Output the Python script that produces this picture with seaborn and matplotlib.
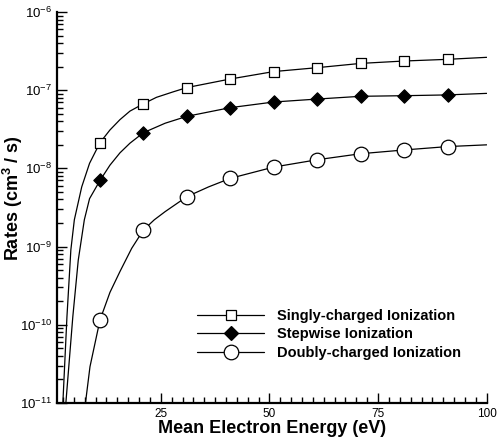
import matplotlib
matplotlib.use("Agg")
import matplotlib.pyplot as plt
import numpy as np
import pandas as pd
import seaborn as sns
from matplotlib.lines import Line2D
from matplotlib.ticker import (LogLocator, MultipleLocator, NullFormatter,
                               LogFormatterSciNotation)

# Rate coefficients sampled at the marker energies (eV)
marker_energy = [11, 21, 31, 41, 51, 61, 71, 81, 91]
single_rate = [2.13e-8, 6.7e-8, 1.08e-7, 1.39e-7, 1.73e-7, 1.94e-7, 2.2e-7, 2.36e-7, 2.48e-7]
stepwise_rate = [7.0e-9, 2.86e-8, 4.63e-8, 5.98e-8, 7.06e-8, 7.7e-8, 8.35e-8, 8.5e-8, 8.7e-8]
double_rate = [1.15e-10, 1.63e-9, 4.35e-9, 7.46e-9, 1.04e-8, 1.29e-8, 1.54e-8, 1.72e-8, 1.9e-8]

# Continuous rate curves
single_curve_e = [2.46, 3.4, 4.3, 5.1, 6.8, 8.6, 11, 13.3, 15.6, 17.9, 21, 24, 27.8, 31,
                  41, 51, 61, 71, 81, 91, 100]
single_curve_r = [1e-11, 1.27e-10, 9.1e-10, 2.2e-9, 5.8e-9, 1.16e-8, 2.13e-8, 3.1e-8, 4.2e-8,
                  5.4e-8, 6.7e-8, 8.1e-8, 9.5e-8, 1.08e-7, 1.39e-7, 1.73e-7, 1.94e-7, 2.2e-7,
                  2.36e-7, 2.48e-7, 2.63e-7]
stepwise_curve_e = [3.15, 4.75, 6.0, 7.4, 8.6, 11, 13.3, 15.6, 17.9, 21, 26, 31, 41, 51, 61,
                    71, 81, 91, 100]
stepwise_curve_r = [1e-11, 1.27e-10, 6.7e-10, 2.2e-9, 4.1e-9, 7.0e-9, 1.1e-8, 1.58e-8, 2.1e-8,
                    2.86e-8, 3.78e-8, 4.63e-8, 5.98e-8, 7.06e-8, 7.7e-8, 8.35e-8, 8.5e-8,
                    8.7e-8, 9.1e-8]
double_curve_e = [7.66, 8.7, 11, 13.3, 15.6, 18.3, 21, 23.5, 26, 31, 36, 41, 51, 61, 71, 81,
                  91, 100]
double_curve_r = [1e-11, 2.91e-11, 1.15e-10, 2.6e-10, 4.8e-10, 9.5e-10, 1.63e-9, 2.2e-9,
                  2.8e-9, 4.35e-9, 5.8e-9, 7.46e-9, 1.04e-8, 1.29e-8, 1.54e-8, 1.72e-8,
                  1.9e-8, 2.0e-8]

series_names = ["Singly-charged Ionization", "Stepwise Ionization", "Doubly-charged Ionization"]
x_ticks = [25, 50, 75, 100]

sns.set_theme(style="ticks")
plt.rcParams["font.family"] = ["Liberation Sans", "DejaVu Sans"]
plt.rcParams["mathtext.fontset"] = "custom"
plt.rcParams["mathtext.rm"] = "Liberation Sans"
plt.rcParams["mathtext.bf"] = "Liberation Sans:bold"
plt.rcParams["axes.unicode_minus"] = False
for key in ["text.color", "axes.labelcolor", "xtick.color", "ytick.color", "axes.edgecolor"]:
    plt.rcParams[key] = "black"

markers = {series_names[0]: dict(marker="s", s=52, facecolor="white", edgecolor="black", linewidth=0.9),
           series_names[1]: dict(marker="D", s=46, facecolor="black", edgecolor="black", linewidth=0.9),
           series_names[2]: dict(marker="o", s=110, facecolor="white", edgecolor="black", linewidth=0.9)}

curves = pd.concat([
    pd.DataFrame({"energy": single_curve_e, "rate": single_curve_r, "series": series_names[0]}),
    pd.DataFrame({"energy": stepwise_curve_e, "rate": stepwise_curve_r, "series": series_names[1]}),
    pd.DataFrame({"energy": double_curve_e, "rate": double_curve_r, "series": series_names[2]}),
])
points = pd.concat([
    pd.DataFrame({"energy": marker_energy, "rate": single_rate, "series": series_names[0]}),
    pd.DataFrame({"energy": marker_energy, "rate": stepwise_rate, "series": series_names[1]}),
    pd.DataFrame({"energy": marker_energy, "rate": double_rate, "series": series_names[2]}),
])

fig = plt.figure(figsize=(4.98, 4.45), dpi=100)
ax = fig.add_axes([0.1135, 0.0944, 0.8638, 0.8787])

for name in series_names:
    sns.lineplot(data=curves[curves.series == name], x="energy", y="rate", ax=ax,
                 color="black", linewidth=0.9, sort=False, estimator=None, legend=False)
for name in series_names:
    sns.scatterplot(data=points[points.series == name], x="energy", y="rate", ax=ax,
                    legend=False, zorder=3, **markers[name])

ax.set_yscale("log")
ax.set_xlim(1, 100)
ax.set_ylim(1e-11, 1e-6)

ax.xaxis.set_major_locator(plt.FixedLocator(x_ticks))
ax.xaxis.set_minor_locator(MultipleLocator(2.5))
ax.yaxis.set_major_locator(LogLocator(base=10, numticks=10))
ax.yaxis.set_minor_locator(LogLocator(base=10, subs=np.arange(2, 10), numticks=20))
ax.yaxis.set_minor_formatter(NullFormatter())
ax.yaxis.set_major_formatter(LogFormatterSciNotation())

ax.tick_params(which="both", direction="in", width=1.0)
ax.tick_params(which="major", length=7)
ax.tick_params(which="minor", length=4.3)
ax.tick_params(axis="x", labelsize=8.5, pad=3.5)
ax.tick_params(axis="y", labelsize=9.5, pad=3)

sns.despine(ax=ax)
for side in ["left", "bottom"]:
    ax.spines[side].set_linewidth(1.6)

ax.set_xlabel("Mean Electron Energy (eV)", fontsize=13, fontweight="bold", labelpad=0)
ax.set_ylabel(r"Rates (cm$^{\mathbf{3}}$ / s)", fontsize=13, fontweight="bold")
ax.yaxis.set_label_coords(-0.073, 0.525)

handles = []
for name in series_names:
    m = markers[name]
    handles.append(Line2D([], [], color="black", linewidth=0.9, marker=m["marker"],
                          markersize=np.sqrt(m["s"]), markerfacecolor=m["facecolor"],
                          markeredgecolor="black", markeredgewidth=0.9, label=name))
ax.legend(handles=handles, loc="upper left", bbox_to_anchor=(197 / 498, 1 - 309 / 445),
          bbox_transform=fig.transFigure, frameon=False, borderpad=0, borderaxespad=0,
          handlelength=4.6, handletextpad=0.9, labelspacing=0.3,
          prop=dict(size=10.5, weight="bold"))

fig.savefig("out.png", dpi=100)
